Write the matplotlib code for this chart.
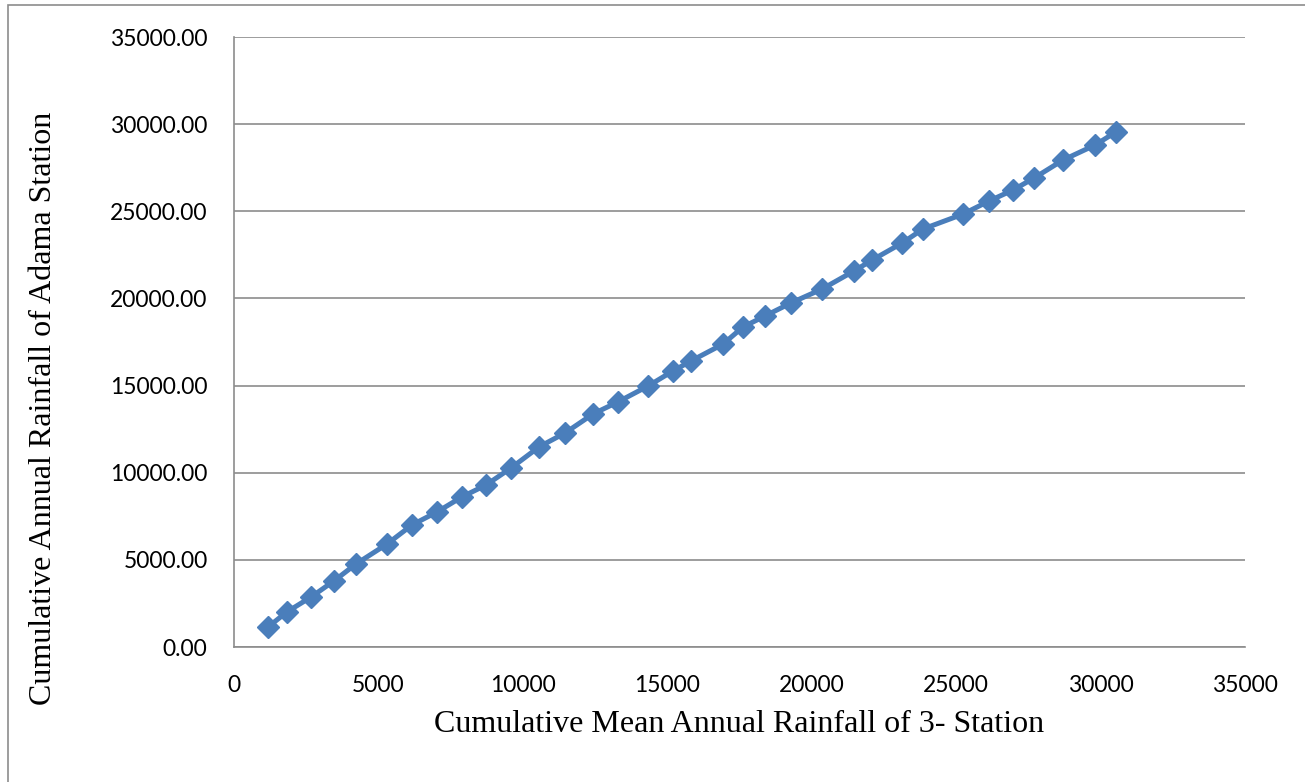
import matplotlib
matplotlib.use("Agg")
import matplotlib.pyplot as plt
from matplotlib.patches import Rectangle
from matplotlib.ticker import FuncFormatter

# cumulative mean annual rainfall of 3 stations (x) vs Adama station (y)
cum_mean_3st = [1180, 1830, 2670, 3460, 4220, 5300, 6160, 7030, 7890, 8720,
                9590, 10560, 11460, 12430, 13290, 14330, 15200, 15820, 16930, 17620,
                18380, 19280, 20360, 21460, 22090, 23130, 23850, 25240, 26140, 26970,
                27700, 28700, 29810, 30530]
cum_adama = [1150, 2010, 2870, 3790, 4760, 5910, 7000, 7750, 8610, 9290,
             10270, 11480, 12280, 13370, 14060, 14970, 15840, 16410, 17380, 18360,
             18990, 19740, 20540, 21570, 22200, 23180, 23980, 24840, 25590, 26220,
             26910, 27940, 28800, 29550]

xticks = [0, 5000, 10000, 15000, 20000, 25000, 30000, 35000]
yticks = [0, 5000, 10000, 15000, 20000, 25000, 30000, 35000]

W, H = 1305, 782
fig = plt.figure(figsize=(W / 100, H / 100), dpi=100)
ax = fig.add_axes([234 / W, 1 - 647 / H, (1245 - 234) / W, (647 - 37) / H])

# outer chart border (only top/left visible in the crop)
fig.patches.append(Rectangle((8 / W, -0.05), 1.2, 1 - 5 / H + 0.05,
                             transform=fig.transFigure, fill=False,
                             edgecolor="#8c8c8c", linewidth=1.2))

ax.plot(cum_mean_3st, cum_adama, color="#4a7ebb", linewidth=3.6,
        marker="D", markersize=11, markerfacecolor="#4a7ebb",
        markeredgecolor="#4a7ebb", zorder=3)

ax.set_xlim(0, 35000)
ax.set_ylim(0, 35000)
ax.set_xticks(xticks)
ax.set_yticks(yticks)
ax.yaxis.set_major_formatter(FuncFormatter(lambda v, p: f"{v:.2f}"))
ax.tick_params(length=0, labelsize=16.5)
ax.tick_params(axis="y", pad=19)
ax.tick_params(axis="x", pad=20)
for lab in ax.get_xticklabels() + ax.get_yticklabels():
    lab.set_fontfamily("Lato")

ax.grid(axis="y", color="#8c8c8c", linewidth=1.2)
ax.set_axisbelow(True)
for side in ["top", "right"]:
    ax.spines[side].set_visible(False)
for side in ["left", "bottom"]:
    ax.spines[side].set_color("#8c8c8c")
    ax.spines[side].set_linewidth(1.2)

fig.text(739 / W, 1 - 724 / H, "Cumulative Mean Annual Rainfall of 3- Station",
         fontfamily="Liberation Serif", fontsize=23, ha="center", va="center")
fig.text(44 / W, 1 - 408 / H, "Cumulative Annual Rainfall of Adama Station",
         fontfamily="Liberation Serif", fontsize=23, ha="center", va="center",
         rotation=90)

fig.savefig("out.png", dpi=100)
